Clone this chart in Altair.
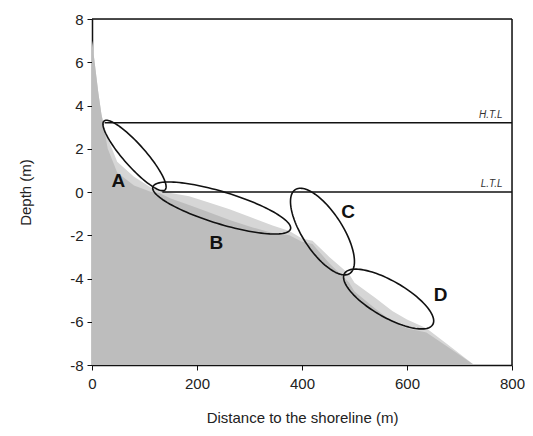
import altair as alt
import numpy as np
import pandas as pd

# Profile (distance m, depth m)
prof_x = [0, 5, 12, 18, 24, 30, 48, 80, 113, 128, 150, 185, 224, 262, 300, 344, 376, 400, 420, 452, 490, 500, 540, 572, 600, 637, 680, 728]
prof_upper = [7.0, 6.0, 4.6, 3.6, 3.0, 2.5, 1.4, 0.7, 0.2, 0.1, -0.05, -0.2, -0.5, -0.8, -1.15, -1.55, -1.8, -2.15, -2.25, -3.0, -3.8, -4.2, -4.9, -5.5, -5.9, -6.3, -7.1, -8.0]
prof_lower = [7.0, 6.0, 4.6, 3.6, 2.8, 2.0, 0.9, 0.3, 0.0, -0.05, -0.3, -0.6, -0.95, -1.3, -1.6, -1.9, -2.0, -2.3, -2.4, -3.3, -4.2, -4.6, -5.4, -6.0, -6.3, -6.5, -7.2, -8.0]

# Tide levels
tide_names = ["H.T.L", "L.T.L"]
tide_levels = [3.2, 0.0]
tide_start = [24, 134]

# Ellipse annotations: name, center (data), semi-axes (px), angle (deg)
ell_names = ["A", "B", "C", "D"]
ell_cx = [81, 247, 439, 565]
ell_cy = [1.69, -0.74, -1.83, -4.95]
ell_a = [46, 72, 50, 51]
ell_b = [11, 16, 20, 18]
ell_ang = [48.5, 17, 57, 30]
lab_x = [50, 237, 488, 664]
lab_y = [0.5, -2.36, -0.93, -4.77]

# Frame
frame_x = [0, 800]
frame_y = [-8, 8]

W, H = 420, 346
sx = W / 800.0
sy = H / 16.0

prof = pd.DataFrame({"x": prof_x, "up": prof_upper, "lo": prof_lower, "base": [-8] * len(prof_x)})

rows = []
for n, cx, cy, a, b, ang in zip(ell_names, ell_cx, ell_cy, ell_a, ell_b, ell_ang):
    th = np.radians(ang)
    for i, t in enumerate(np.linspace(0, 2 * np.pi, 121)):
        dx = a * np.cos(t) * np.cos(th) - b * np.sin(t) * np.sin(th)
        dy = a * np.cos(t) * np.sin(th) + b * np.sin(t) * np.cos(th)
        rows.append({"name": n, "i": i, "x": cx + dx / sx, "y": cy - dy / sy})
ell = pd.DataFrame(rows)

tides = pd.DataFrame({"name": tide_names, "y": tide_levels, "x": tide_start, "x2": [800, 800],
                      "lx": [782, 782], "ly": [3.56, 0.37]})
labs = pd.DataFrame({"name": ell_names, "x": lab_x, "y": lab_y})
frame_top = pd.DataFrame({"x": [frame_x[0]], "x2": [frame_x[1]], "y": [frame_y[1]]})
frame_right = pd.DataFrame({"x": [frame_x[1]], "y": [frame_y[0]], "y2": [frame_y[1]]})

xs = alt.Scale(domain=[0, 800], nice=False)
ys = alt.Scale(domain=[-8, 8], nice=False)

common = dict(grid=False, labelFontSize=15, titleFontSize=15, titleFontWeight="normal",
              labelColor="#222", titleColor="#222", domainColor="#111", tickColor="#111",
              tickSize=5, labelFlush=False, labelFont="Liberation Sans", titleFont="Liberation Sans",
              domainWidth=1.5, labelExpr="toString(datum.value)")
xax = alt.Axis(values=[0, 200, 400, 600, 800], title="Distance to the shoreline (m)",
               labelPadding=6, titlePadding=19, **common)
yax = alt.Axis(values=list(range(-8, 9, 2)), title="Depth (m)", labelPadding=4,
               titlePadding=36, **common)

upper = alt.Chart(prof).mark_area(color="#d6d6d6", interpolate="linear").encode(
    x=alt.X("x:Q", scale=xs, axis=xax), y=alt.Y("up:Q", scale=ys, axis=yax), y2="base:Q")
lower = alt.Chart(prof).mark_area(color="#bdbdbd", interpolate="linear").encode(
    x=alt.X("x:Q", scale=xs), y=alt.Y("lo:Q", scale=ys), y2="base:Q")

ft = alt.Chart(frame_top).mark_rule(color="#111", strokeWidth=1.5).encode(
    x=alt.X("x:Q", scale=xs), x2="x2:Q", y=alt.Y("y:Q", scale=ys))
fr = alt.Chart(frame_right).mark_rule(color="#111", strokeWidth=1.5).encode(
    x=alt.X("x:Q", scale=xs), y=alt.Y("y:Q", scale=ys), y2="y2:Q")

tl = alt.Chart(tides).mark_rule(color="#111", strokeWidth=1.5).encode(
    x=alt.X("x:Q", scale=xs), x2="x2:Q", y=alt.Y("y:Q", scale=ys))
tt = alt.Chart(tides).mark_text(align="right", baseline="middle", fontSize=10, fontStyle="italic",
                                font="Liberation Sans", color="#333").encode(
    x=alt.X("lx:Q", scale=xs), y=alt.Y("ly:Q", scale=ys), text="name:N")

el = alt.Chart(ell).mark_line(color="#111", strokeWidth=1.6).encode(
    x=alt.X("x:Q", scale=xs), y=alt.Y("y:Q", scale=ys), detail="name:N", order="i:Q")

lt = alt.Chart(labs).mark_text(fontSize=19, fontWeight="bold", font="Liberation Sans", color="#111").encode(
    x=alt.X("x:Q", scale=xs), y=alt.Y("y:Q", scale=ys), text="name:N")

chart = alt.layer(upper, lower, ft, fr, tl, tt, el, lt).properties(
    width=W, height=H,
    autosize=alt.AutoSizeParams(type="none"),
    padding={"left": 84, "top": 11, "right": 13, "bottom": 62},
).configure_view(stroke=None).configure(background="white")

chart.save("out.html", embed_options={"renderer": "svg", "actions": False})
